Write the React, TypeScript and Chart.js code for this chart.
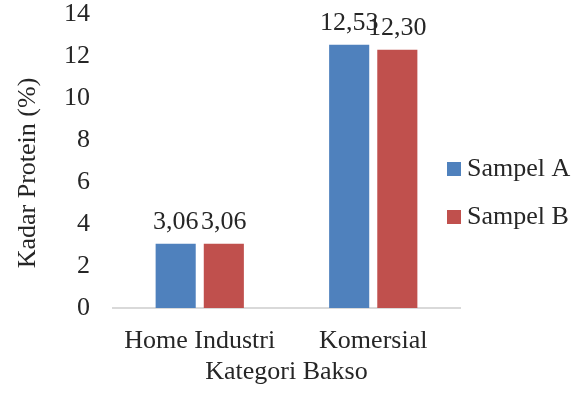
import React, { useEffect, useRef } from "react";
import { Chart, registerables } from "chart.js";

Chart.register(...registerables);

const categories = ["Home Industri", "Komersial"];
const seriesNames = ["Sampel A", "Sampel B"];
const sampelA = [3.06, 12.53];
const sampelB = [3.06, 12.3];
const seriesColors = ["#4F81BD", "#C0504D"];
const yTitle = "Kadar Protein (%)";
const xTitle = "Kategori Bakso";

const FONT = "'Liberation Serif', 'Times New Roman', serif";
const TEXT = "#262626";
const FS = 26;

const dataLabels = {
  id: "dataLabels",
  afterDatasetsDraw(chart: any) {
    const ctx = chart.ctx;
    ctx.save();
    ctx.font = `${FS}px ${FONT}`;
    ctx.fillStyle = TEXT;
    ctx.textAlign = "center";
    ctx.textBaseline = "alphabetic";
    chart.data.datasets.forEach((ds: any, i: number) => {
      const meta = chart.getDatasetMeta(i);
      meta.data.forEach((el: any, j: number) => {
        const v = ds.data[j] as number;
        ctx.fillText(v.toFixed(2).replace(".", ","), el.x, el.y - 15);
      });
    });
    ctx.restore();
  },
};

const yTitlePlugin = {
  id: "yTitlePlugin",
  afterDraw(chart: any) {
    const ctx = chart.ctx;
    const area = chart.chartArea;
    ctx.save();
    ctx.font = `${FS}px ${FONT}`;
    ctx.fillStyle = TEXT;
    ctx.textAlign = "center";
    ctx.textBaseline = "middle";
    ctx.translate(28, (area.top + area.bottom) / 2 + 12);
    ctx.rotate(-Math.PI / 2);
    ctx.fillText(yTitle, 0, 0);
    ctx.restore();
  },
};

const customLegend = {
  id: "customLegend",
  afterDraw(chart: any) {
    const ctx = chart.ctx;
    ctx.save();
    ctx.font = `${FS}px ${FONT}`;
    ctx.textBaseline = "middle";
    ctx.textAlign = "left";
    chart.data.datasets.forEach((ds: any, i: number) => {
      const y = 169 + i * 48;
      ctx.fillStyle = ds.backgroundColor;
      ctx.fillRect(447, y - 7, 14, 14);
      ctx.fillStyle = TEXT;
      ctx.fillText(ds.label, 467, y);
    });
    ctx.restore();
  },
};

export default function App() {
  const ref = useRef<HTMLCanvasElement>(null);
  useEffect(() => {
    if (!ref.current) return;
    const chart = new Chart(ref.current, {
      type: "bar",
      data: {
        labels: categories,
        datasets: [
          { label: seriesNames[0], data: sampelA, backgroundColor: seriesColors[0] },
          { label: seriesNames[1], data: sampelB, backgroundColor: seriesColors[1] },
        ],
      },
      options: {
        animation: false,
        responsive: false,
        maintainAspectRatio: false,
        layout: { padding: { left: 0, right: 116, top: 14, bottom: 0 } },
        datasets: {
          bar: { categoryPercentage: 0.555, barPercentage: 0.833 },
        },
        plugins: {
          legend: { display: false },
          tooltip: { enabled: false },
        },
        scales: {
          x: {
            grid: { display: false },
            border: { display: true, color: "#d9d9d9", width: 2 },
            ticks: { color: TEXT, font: { family: FONT, size: FS }, padding: 10, maxRotation: 0 },
            title: {
              display: true,
              text: xTitle,
              color: TEXT,
              font: { family: FONT, size: FS },
              padding: { top: 0, bottom: 10 },
            },
            afterFit(scale: any) {
              scale.height = 90;
              scale.paddingLeft = 0;
              scale.paddingRight = 0;
            },
          },
          y: {
            min: 0,
            max: 14,
            grid: { display: false },
            border: { display: false },
            ticks: { stepSize: 2, color: TEXT, font: { family: FONT, size: FS }, padding: 15 },
            title: { display: false, text: yTitle },
            afterFit(scale: any) {
              scale.width = 113;
              scale.paddingTop = 0;
              scale.paddingBottom = 0;
            },
          },
        },
      },
      plugins: [dataLabels, yTitlePlugin, customLegend],
    });
    return () => chart.destroy();
  }, []);
  return (
    <div style={{ position: "absolute", left: 0, top: 0, width: 576, height: 398, background: "#fff" }}>
      <canvas ref={ref} width={576} height={398} style={{ width: 576, height: 398, display: "block" }} />
    </div>
  );
}
